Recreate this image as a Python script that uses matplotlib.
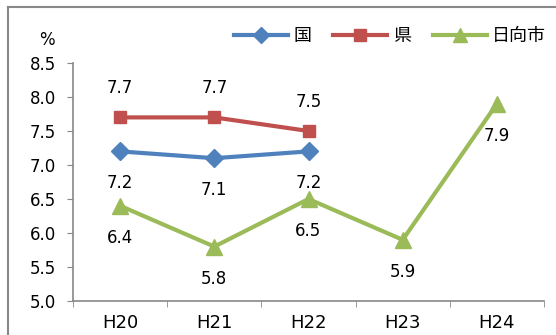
import matplotlib.pyplot as plt
from matplotlib.lines import Line2D

plt.rcParams['font.family'] = ['DejaVu Sans', 'Noto Sans CJK JP']

years = ['H20', 'H21', 'H22', 'H23', 'H24']
kuni = [7.2, 7.1, 7.2]
ken = [7.7, 7.7, 7.5]
hyuga = [6.4, 5.8, 6.5, 5.9, 7.9]

c_kuni = '#4F81BD'
c_ken = '#C0504D'
c_hyuga = '#9BBB59'

fig = plt.figure(figsize=(5.56, 3.35), dpi=100)
ax = fig.add_axes([73 / 556, 1 - 301 / 335, 471 / 556, 238 / 335])

x = list(range(len(years)))
ax.plot(x[:3], kuni, color=c_kuni, lw=3, marker='D', ms=9, label='国')
ax.plot(x[:3], ken, color=c_ken, lw=3, marker='s', ms=9, label='県')
ax.plot(x, hyuga, color=c_hyuga, lw=3, marker='^', ms=11, label='日向市')

# value labels
lab_fs = 12
for i, v in enumerate(kuni):
    ax.annotate(f'{v:.1f}', (i, v), xytext=(0, -23), textcoords='offset points',
                ha='center', va='center', fontsize=lab_fs)
for i, v in enumerate(ken):
    ax.annotate(f'{v:.1f}', (i, v), xytext=(0, 21), textcoords='offset points',
                ha='center', va='center', fontsize=lab_fs)
for i, v in enumerate(hyuga):
    ax.annotate(f'{v:.1f}', (i, v), xytext=(0, -23), textcoords='offset points',
                ha='center', va='center', fontsize=lab_fs)

ax.set_xlim(-0.5, 4.5)
ax.set_ylim(5.0, 8.5)
ax.set_yticks([5.0, 5.5, 6.0, 6.5, 7.0, 7.5, 8.0, 8.5])
ax.set_yticklabels([f'{t:.1f}' for t in ax.get_yticks()])
ax.set_xticks(x)
ax.set_xticklabels(years)
ax.set_xticks([i - 0.5 for i in range(6)], minor=True)
ax.tick_params(axis='x', which='major', length=0, pad=9, labelsize=13)
ax.tick_params(axis='x', which='minor', length=4, color='#888888', direction='out')
ax.tick_params(axis='y', length=4, color='#888888', labelsize=12, pad=8)

for s in ['top', 'right']:
    ax.spines[s].set_visible(False)
for s in ['left', 'bottom']:
    ax.spines[s].set_color('#888888')
    ax.spines[s].set_linewidth(1.2)

fig.text(47 / 556, 1 - 40 / 335, '%', ha='center', va='center', fontsize=12)

ax.legend(loc='center left', bbox_to_anchor=(234 / 556, 1 - 36 / 335),
          bbox_transform=fig.transFigure, ncol=3, frameon=False,
          fontsize=13, handlelength=3.0, handletextpad=0.3, columnspacing=1.2,
          borderpad=0, borderaxespad=0, markerscale=0.9)

# outer chart border
fig.add_artist(Line2D([8 / 556, 8 / 556], [0, 1 - 7 / 335], color='#888888', lw=1.5))
fig.add_artist(Line2D([8 / 556, 1], [1 - 7 / 335, 1 - 7 / 335], color='#888888', lw=1.5))

fig.savefig('out.png', dpi=100)
